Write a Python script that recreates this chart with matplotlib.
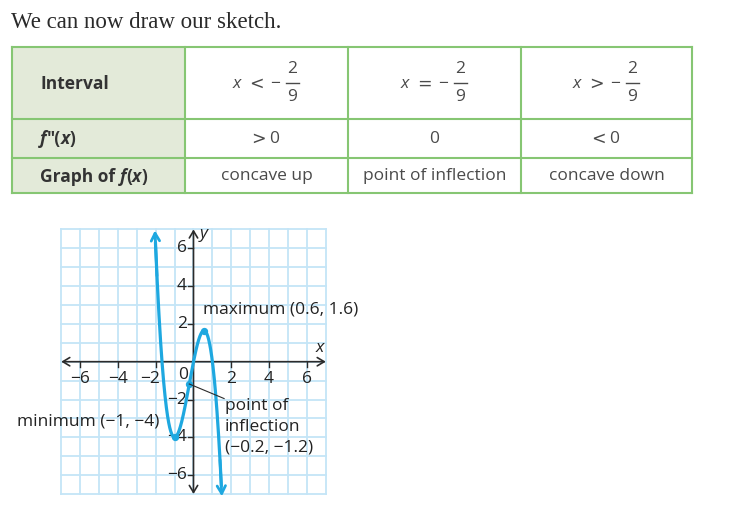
import numpy as np
import matplotlib
matplotlib.use("Agg")
import matplotlib.pyplot as plt
from matplotlib.patches import Rectangle

# ---------------- data ----------------
title = "We can now draw our sketch."
row_labels = ["Interval", "f\u2033(x)", "Graph of f(x)"]
interval_signs = ["<", "=", ">"]
frac_num, frac_den = "2", "9"
second_deriv_sign = [">", "", "<"]
second_deriv_val = ["0", "0", "0"]
concavity = ["concave up", "point of inflection", "concave down"]

# cubic: f(x) = -3x^3 - 2x^2 + 5x
coeffs = [-3, -2, 5, 0]
x_start, x_end = -2.04, 1.50
key_x = [0.556, -1.0, -0.222]
key_y = [1.65, -4.0, -1.18]
tick_vals = [-6, -4, -2, 2, 4, 6]
grid_vals = list(range(-7, 8))

# ---------------- styles ----------------
W, H = 734, 512
GREEN = "#86c673"
FILL = "#e3ead9"
BLUE = "#1ea8e0"
GRID = "#c4e5f7"
DARK = "#2b2b2b"
SANS = ["Open Sans", "DejaVu Sans"]

fig = plt.figure(figsize=(W / 100, H / 100), dpi=100)
bg = fig.add_axes([0, 0, 1, 1])
bg.set_xlim(0, W)
bg.set_ylim(H, 0)
bg.axis("off")
renderer = fig.canvas.get_renderer()

bg.text(11, 28, title, family="Liberation Serif", fontsize=16.5, color="#2a2a2a",
        va="baseline", ha="left")

# table geometry (pixels)
cols = [12, 185, 348, 521, 692]
rows = [47, 119, 158, 193]
bg.add_patch(Rectangle((cols[0], rows[0]), cols[1] - cols[0], rows[-1] - rows[0],
                       facecolor=FILL, edgecolor="none", zorder=1))
for c in cols:
    bg.plot([c, c], [rows[0], rows[-1]], color=GREEN, lw=1.5, zorder=2)
for r in rows:
    bg.plot([cols[0], cols[-1]], [r, r], color=GREEN, lw=1.5, zorder=2)

fs_tab = 12.5


def rich(x, y, pieces, **kw):
    for s, st in pieces:
        t = bg.text(x, y, s, style=st, **kw)
        x += t.get_window_extent(renderer).width


lab_kw = dict(family=SANS, fontweight="bold", fontsize=fs_tab, color="#333333",
              va="center", ha="left")
label_x = 40
bg.text(label_x, 84, row_labels[0], **lab_kw)
rich(label_x, 139, [("f", "italic"), ("\u2033(", "normal"), ("x", "italic"),
                    (")", "normal")], **lab_kw)
rich(label_x, 177, [("Graph of\u00a0", "normal"), ("f", "italic"), ("(", "normal"),
                    ("x", "italic"), (")", "normal")], **lab_kw)

GRAY = "#4a4a4a"
centers = [(cols[i] + cols[i + 1]) / 2 for i in range(1, 4)]
for cx, sgn in zip(centers, interval_signs):
    x0 = cx - 30
    bg.text(x0, 84, "x", family=SANS, fontsize=fs_tab, color=GRAY, va="center",
            ha="center", style="italic")
    bg.text(x0 + 20, 84, sgn, family="DejaVu Sans", fontsize=fs_tab, color=GRAY,
            va="center", ha="center")
    bg.text(x0 + 39, 84, "\u2212", family=SANS, fontsize=fs_tab, color=GRAY,
            va="center", ha="center")
    fx = x0 + 56
    bg.text(fx, 69, frac_num, family=SANS, fontsize=fs_tab, color=GRAY, va="center",
            ha="center")
    bg.plot([fx - 6.5, fx + 6.5], [83, 83], color=GRAY, lw=1.0)
    bg.text(fx, 97, frac_den, family=SANS, fontsize=fs_tab, color=GRAY, va="center",
            ha="center")

for cx, sg, v in zip(centers, second_deriv_sign, second_deriv_val):
    if sg:
        bg.text(cx - 8, 139, sg, family="DejaVu Sans", fontsize=fs_tab, color=GRAY,
                va="center", ha="center")
        bg.text(cx + 8, 139, v, family=SANS, fontsize=fs_tab, color=GRAY, va="center",
                ha="center")
    else:
        bg.text(cx, 139, v, family=SANS, fontsize=fs_tab, color=GRAY, va="center",
                ha="center")
for cx, s in zip(centers, concavity):
    bg.text(cx, 176, s, family=SANS, fontsize=fs_tab, color=GRAY, va="center", ha="center")

# ---------------- graph ----------------
x0px, unit = 193.5, 18.9
y0px = 361.7
left = (x0px - 7 * unit) / W
bottom = (H - (y0px + 7 * unit)) / H
ax = fig.add_axes([left, bottom, 14 * unit / W, 14 * unit / H])
ax.set_xlim(-7, 7)
ax.set_ylim(-7, 7)
ax.axis("off")

for g in grid_vals:
    ax.plot([g, g], [-7, 7], color=GRID, lw=1.3, zorder=1, clip_on=False)
    ax.plot([-7, 7], [g, g], color=GRID, lw=1.3, zorder=1, clip_on=False)

ap = dict(arrowstyle="<->,head_length=0.5,head_width=0.3", color=DARK, lw=1.2,
          shrinkA=0, shrinkB=0)
ax.annotate("", xy=(7, 0), xytext=(-7, 0), arrowprops=ap, zorder=3)
ax.annotate("", xy=(0, 7), xytext=(0, -7), arrowprops=ap, zorder=3)

fs_lab = 12.5
for t in tick_vals:
    ax.plot([t, t], [0, -0.3], color=DARK, lw=1.0, zorder=3)
    ax.plot([-0.3, 0], [t, t], color=DARK, lw=1.0, zorder=3)
    xo = -0.3 if t == -2 else 0.0
    ax.text(t + xo, -0.5, f"{t}".replace("-", "\u2212"), family=SANS, fontsize=fs_lab,
            color="#222222", ha="center", va="top", zorder=4)
    ax.text(-0.35, t, f"{t}".replace("-", "\u2212"), family=SANS, fontsize=fs_lab,
            color="#222222", ha="right", va="center", zorder=4)
ax.text(-0.55, -0.7, "0", family=SANS, fontsize=fs_lab, color="#222222", ha="center",
        va="center", zorder=4)
ax.text(0.35, 6.75, "y", family=SANS, fontsize=fs_lab, style="italic", color="#222222",
        ha="left", va="center")
ax.text(6.7, 0.75, "x", family=SANS, fontsize=fs_lab, style="italic", color="#222222",
        ha="center", va="center")

xs = np.linspace(x_start, x_end, 400)
ys = np.polyval(coeffs, xs)
ax.plot(xs[3:-3], ys[3:-3], color=BLUE, lw=2.3, zorder=5, clip_on=False,
        solid_capstyle="round")
arr = dict(arrowstyle="->,head_length=0.55,head_width=0.3", color=BLUE, lw=2.0,
           shrinkA=0, shrinkB=0)
ax.annotate("", xy=(xs[0], ys[0]), xytext=(xs[12], ys[12]), arrowprops=arr, zorder=5,
            annotation_clip=False)
ax.annotate("", xy=(xs[-1], ys[-1]), xytext=(xs[-12], ys[-12]), arrowprops=arr,
            zorder=5, annotation_clip=False)
ax.scatter(key_x, key_y, s=18, color=BLUE, zorder=6, clip_on=False)

ax.text(0.5, 2.75, "maximum (0.6, 1.6)", family=SANS, fontsize=fs_lab, color="#222222",
        ha="left", va="center", zorder=7)
ax.text(-1.8, -3.15, "minimum (\u22121, \u22124)", family=SANS, fontsize=fs_lab,
        color="#222222", ha="right", va="center", zorder=7, clip_on=False)
ax.plot([key_x[2], 1.62], [key_y[2], -1.95], color=DARK, lw=0.8, zorder=6)
ax.text(1.66, -3.45, "point of\ninflection\n(\u22120.2, \u22121.2)", family=SANS,
        fontsize=fs_lab, color="#222222", ha="left", va="center", linespacing=1.4,
        zorder=7)

fig.savefig("out.png", dpi=100)
